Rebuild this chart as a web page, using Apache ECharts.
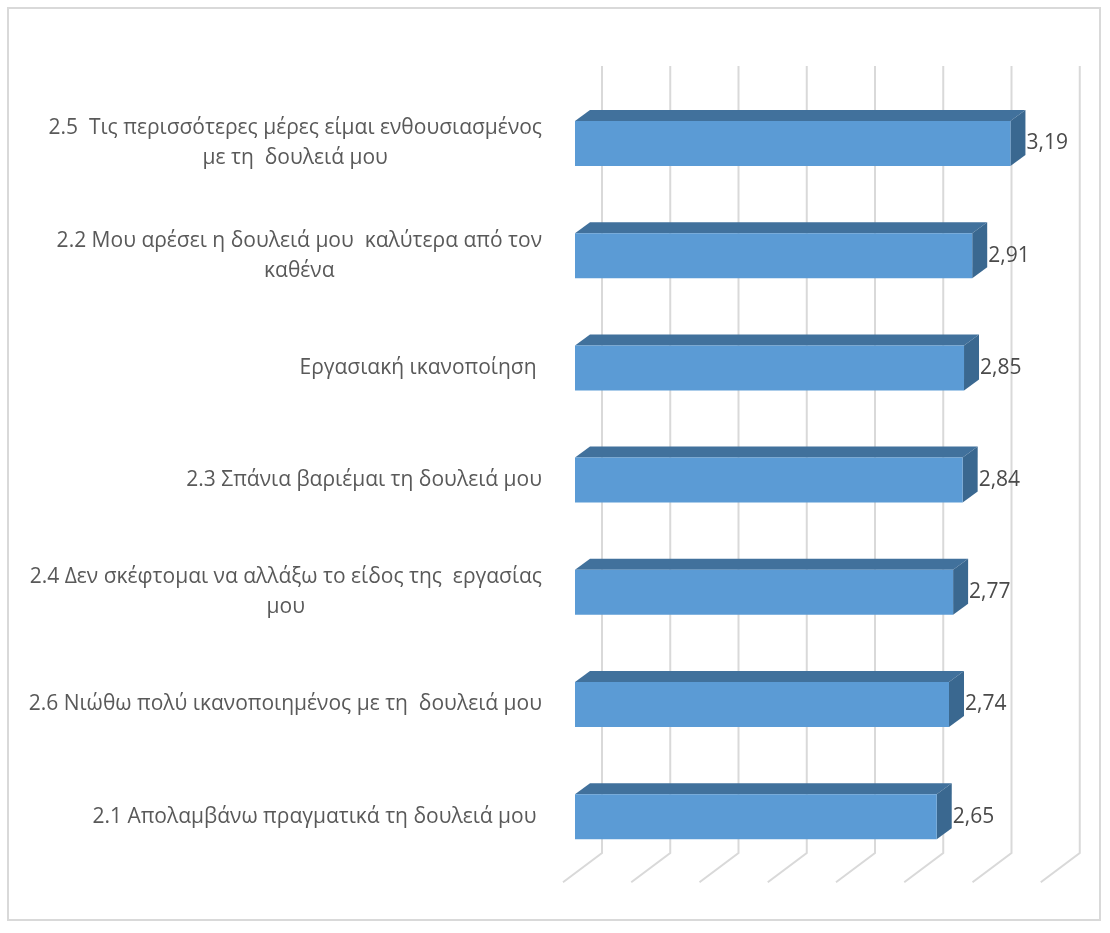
<!DOCTYPE html>
<html>
<head>
<meta charset="utf-8">
<script src="https://cdn.jsdelivr.net/npm/echarts@6/dist/echarts.min.js"></script>
<style>
  html, body { margin: 0; padding: 0; background: #ffffff; }
  #chart { width: 1110px; height: 933px; }
</style>
</head>
<body>
<div id="chart"></div>
<script>
// Job-satisfaction items, listed top to bottom
const categories = [
  '2.5  Τις περισσότερες μέρες είμαι ενθουσιασμένος\nμε τη  δουλειά μου',
  '2.2 Μου αρέσει η δουλειά μου  καλύτερα από τον\nκαθένα',
  'Εργασιακή ικανοποίηση ',
  '2.3 Σπάνια βαριέμαι τη δουλειά μου',
  '2.4 Δεν σκέφτομαι να αλλάξω το είδος της  εργασίας\nμου',
  '2.6 Νιώθω πολύ ικανοποιημένος με τη  δουλειά μου',
  '2.1 Απολαμβάνω πραγματικά τη δουλειά μου '
];
// Mean scores
const values = [3.19, 2.91, 2.85, 2.84, 2.77, 2.74, 2.65];
// Value-axis gridline positions
const gridTicks = [0, 0.5, 1, 1.5, 2, 2.5, 3, 3.5];

const FONT = '"Open Sans", "Noto Sans", sans-serif';
const TEXT = '#595959';
const VALUE_TEXT = '#4a4a4a';
const FRONT = '#5b9bd5';
const TOP = '#41719c';
const SIDE = '#3a6890';
const GRID = '#d9d9d9';

// 3D box geometry (pixels): bar depth and the distance from the bar's front
// face to the back wall / front floor edge
const BAR_DX = 15, BAR_DY = -11;
const WALL_DX = 27;
const FLOOR_DX = -12, FLOOR_DY = 9.5;

const chart = echarts.init(document.getElementById('chart'), null, { renderer: 'canvas' });

function wrapCentered(text) {
  return text.split('\n').map(l => '{c|' + l + '}').join('\n');
}

const option = {
  backgroundColor: '#ffffff',
  animation: false,
  graphic: [{
    type: 'rect',
    shape: { x: 8, y: 8, width: 1092, height: 912 },
    style: { fill: 'none', stroke: '#d9d9d9', lineWidth: 2 },
    silent: true,
    z: -10
  }],
  grid: { left: 575, top: 87.4, width: 477.75, height: 785.4, containLabel: false },
  xAxis: {
    type: 'value', min: 0, max: 3.5, interval: 0.5,
    axisLine: { show: false }, axisTick: { show: false },
    axisLabel: { show: false }, splitLine: { show: false }
  },
  yAxis: {
    type: 'category', inverse: true, data: categories,
    axisLine: { show: false }, axisTick: { show: false },
    axisLabel: {
      margin: 33, align: 'right',
      color: TEXT, fontFamily: FONT, fontSize: 21, lineHeight: 30,
      formatter: wrapCentered,
      rich: { c: { align: 'center', color: TEXT, fontFamily: FONT, fontSize: 21, lineHeight: 30 } }
    },
    splitLine: { show: false }
  },
  series: [
    {
      // back-wall and floor gridlines
      type: 'custom', z: 1, silent: true,
      data: gridTicks.map(v => [v, 0]),
      encode: { x: 0, y: 1 },
      renderItem(params, api) {
        const cs = params.coordSys;
        const fx = api.coord([api.value(0), 0])[0];
        const bx = fx + WALL_DX;
        const yTop = cs.y - 21.4;
        const yBot = cs.y + cs.height - 19.8;
        const yFloor = cs.y + cs.height + FLOOR_DY;
        return {
          type: 'polyline',
          shape: { points: [[bx, yTop], [bx, yBot], [fx + FLOOR_DX, yFloor]] },
          style: { stroke: GRID, lineWidth: 2, fill: 'none' }
        };
      }
    },
    {
      // 3D bars with value labels
      type: 'custom', z: 2,
      data: values.map((v, i) => [v, i]),
      encode: { x: 0, y: 1 },
      renderItem(params, api) {
        const val = api.value(0), idx = api.value(1);
        const p0 = api.coord([0, idx]);
        const p1 = api.coord([val, idx]);
        const h = api.size([0, 1])[1] * 0.401;
        const x0 = p0[0], x1 = p1[0];
        const yT = p0[1] - h / 2, yB = p0[1] + h / 2;
        return {
          type: 'group',
          children: [
            { type: 'polygon', shape: { points: [[x0, yT], [x0 + BAR_DX, yT + BAR_DY], [x1 + BAR_DX, yT + BAR_DY], [x1, yT]] },
              style: { fill: TOP } },
            { type: 'polygon', shape: { points: [[x1, yT], [x1 + BAR_DX, yT + BAR_DY], [x1 + BAR_DX, yB + BAR_DY], [x1, yB]] },
              style: { fill: SIDE } },
            { type: 'rect', shape: { x: x0, y: yT, width: x1 - x0, height: h },
              style: { fill: FRONT } },
            { type: 'text', x: x1 + BAR_DX + 1, y: p0[1],
              style: { text: val.toFixed(2).replace('.', ','), fill: VALUE_TEXT, font: '21px ' + FONT,
                       align: 'left', verticalAlign: 'middle' } }
          ]
        };
      }
    }
  ]
};

chart.setOption(option);
</script>
</body>
</html>
